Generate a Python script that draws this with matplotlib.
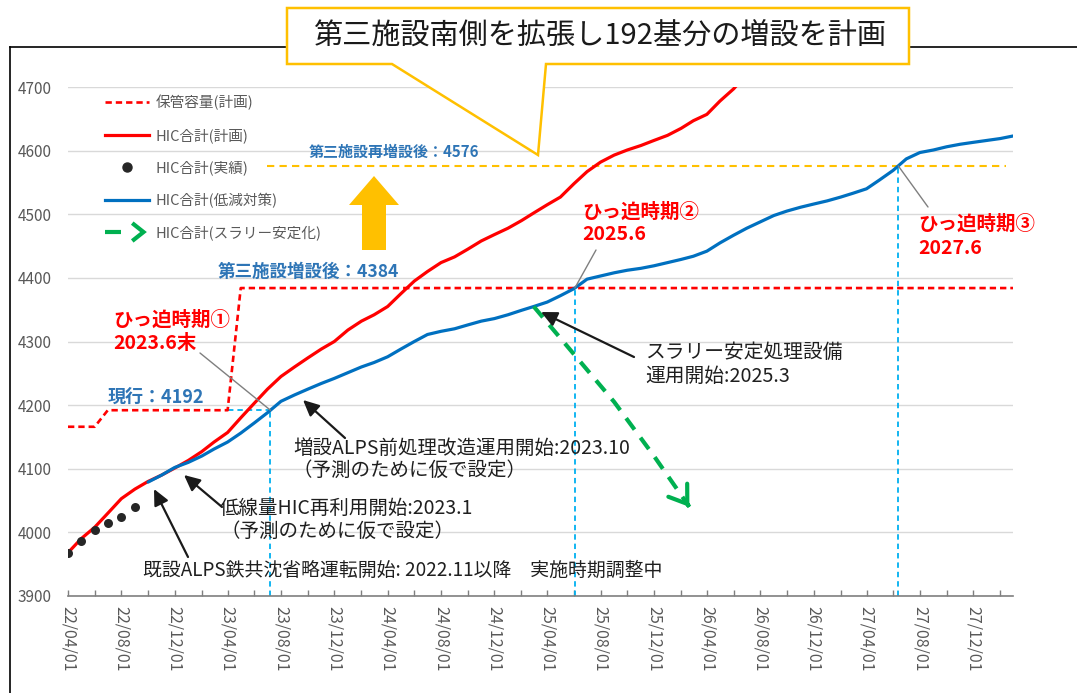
import matplotlib
matplotlib.use("Agg")
import matplotlib.pyplot as plt
import matplotlib.dates as mdates
import numpy as np
import pandas as pd
from matplotlib.lines import Line2D
from matplotlib.patches import Polygon

plt.rcParams["font.family"] = ["Noto Sans CJK JP", "DejaVu Sans"]

# ---------------- data ----------------
# actual HIC count (monthly, from 2022/04)
actual_start = "2022-04-01"
actual_values = [3968, 3987, 4003, 4015, 4024, 4040]

# planned HIC count (monthly, from 2022/04)
plan_start = "2022-04-01"
plan_values = [3968, 3990, 4008, 4030, 4053, 4068, 4080, 4090, 4101, 4113,
               4127, 4142, 4157, 4180, 4203, 4225, 4245, 4260, 4274, 4288,
               4300, 4318, 4332, 4342, 4355, 4375, 4395, 4410, 4424, 4433,
               4445, 4458, 4468, 4478, 4490, 4502, 4515, 4527, 4548, 4567,
               4582, 4593, 4601, 4608, 4616, 4624, 4635, 4647, 4657, 4678,
               4697, 4720]

# HIC count with reduction measures (monthly, from 2022/10)
reduced_start = "2022-10-01"
reduced_values = [4079, 4090, 4102, 4110, 4120, 4131, 4142, 4156, 4172, 4188,
                  4206, 4216, 4225, 4234, 4242, 4251, 4260, 4267, 4276, 4288,
                  4300, 4311, 4316, 4320, 4326, 4332, 4336, 4342, 4349, 4355,
                  4362, 4372, 4383, 4398, 4403, 4408, 4412, 4415, 4419, 4424,
                  4429, 4434, 4442, 4455, 4467, 4478, 4488, 4498, 4505, 4511,
                  4516, 4521, 4527, 4533, 4540, 4554, 4569, 4587, 4597, 4601,
                  4606, 4610, 4613, 4616, 4619, 4623]

# storage capacity (plan), step points
capacity_dates = ["2022-04-01", "2022-06-01", "2022-07-01", "2023-04-01",
                  "2023-05-01", "2028-03-01"]
capacity_values = [4166, 4166, 4192, 4192, 4384, 4384]

# slurry stabilisation scenario
slurry_dates = ["2025-03-01", "2025-06-01", "2025-09-01", "2025-12-01", "2026-02-20"]
slurry_values = [4355, 4280, 4205, 4120, 4040]

# capacity levels
current_capacity = 4192
third_capacity = 4384
third_extra_capacity = 4576
extra_line_span = ["2023-07-01", "2028-02-15"]

legend_labels = ["保管容量(計画)", "HIC合計(計画)", "HIC合計(実績)",
                 "HIC合計(低減対策)", "HIC合計(スラリー安定化)"]

# ---------------- figure ----------------
W, H = 1077, 693
fig = plt.figure(figsize=(W / 100, H / 100), dpi=100)
fig.patch.set_facecolor("white")
ax = fig.add_axes([68 / W, 1 - 596 / H, (1013 - 68) / W, (596 - 87) / H])


def fp(x, y):
    """figure fraction from pixel position measured from the top-left corner"""
    return (x / W, 1 - y / H)


RED = "#FF0000"
BLUE = "#0070C0"
LBLUE = "#00B0F0"
GREEN = "#00B050"
YELLOW = "#FFC000"
GRAY = "#595959"
TXT = "#1f1f1f"
LABEL_BLUE = "#2E75B6"

actual_dates = pd.date_range(actual_start, periods=len(actual_values), freq="MS")
plan_dates = pd.date_range(plan_start, periods=len(plan_values), freq="MS")
reduced_dates = pd.date_range(reduced_start, periods=len(reduced_values), freq="MS")
cap_dates = pd.to_datetime(capacity_dates)
sl_dates = pd.to_datetime(slurry_dates)

# grid
ax.set_ylim(3900, 4700)
ax.set_xlim(pd.Timestamp("2022-04-01"), pd.Timestamp("2028-03-01"))
ax.set_yticks(np.arange(3900, 4701, 100))
ax.grid(axis="y", color="#D9D9D9", lw=1.0, zorder=0)
ax.set_axisbelow(True)

# capacity (dashed)
ax.plot(cap_dates, capacity_values, color=RED, lw=1.9, ls=(0, (2.4, 1.5)), zorder=3)

# plan line
ax.plot(plan_dates, plan_values, color=RED, lw=2.3, zorder=4, solid_capstyle="round")

# reduced line
ax.plot(reduced_dates, reduced_values, color=BLUE, lw=2.3, zorder=5, solid_capstyle="round")

# actual points
ax.scatter(actual_dates, actual_values, s=42, color="#262626", zorder=6, linewidths=0)

# slurry scenario (dashed with open arrow head)
ax.plot(sl_dates, slurry_values, color=GREEN, lw=3.0, ls=(0, (3.4, 2.4)), zorder=5)
sx = mdates.date2num(sl_dates)
tip = (sx[-1], slurry_values[-1])
pre = (sx[-1] - 0.04 * (sx[-1] - sx[-2]),
       slurry_values[-1] - 0.04 * (slurry_values[-1] - slurry_values[-2]))
ax.annotate("", xy=tip, xytext=pre,
            arrowprops=dict(arrowstyle="->,head_length=0.8,head_width=0.55",
                            color=GREEN, lw=3.0, mutation_scale=15,
                            shrinkA=0, shrinkB=0), zorder=5)

# crossings of the reduced line with each capacity level
rx = mdates.date2num(reduced_dates)
rv = np.asarray(reduced_values, dtype=float)


def crossing(level):
    i = int(np.argmax(rv >= level))
    return rx[i - 1] + (level - rv[i - 1]) / (rv[i] - rv[i - 1]) * (rx[i] - rx[i - 1])


levels = [current_capacity, third_capacity, third_extra_capacity]
cross = [crossing(v) for v in levels]
for cx, lv in zip(cross, levels):
    ax.plot([cx, cx], [3900, lv], color=LBLUE, lw=1.3, ls=(0, (3, 2.2)), zorder=2)
ax.plot([mdates.date2num(cap_dates[3]), cross[0]], [current_capacity] * 2,
        color=LBLUE, lw=1.3, ls=(0, (3, 2.2)), zorder=2)

# third facility extra expansion level
ax.plot(pd.to_datetime(extra_line_span), [third_extra_capacity] * 2,
        color=YELLOW, lw=1.5, ls=(0, (3.5, 2.5)), zorder=2)

# axes styling
for s in ["top", "right", "left"]:
    ax.spines[s].set_visible(False)
ax.spines["bottom"].set_color("#7F7F7F")
ax.spines["bottom"].set_linewidth(1.2)
ax.xaxis.set_major_locator(mdates.MonthLocator(bymonth=[4, 8, 12]))
ax.xaxis.set_minor_locator(mdates.MonthLocator(bymonth=[2, 6, 10]))
ax.xaxis.set_major_formatter(mdates.DateFormatter("%y/%m/%d"))
ax.tick_params(axis="x", which="both", direction="in", length=4, width=1,
               color="#7F7F7F", pad=7)
ax.tick_params(axis="x", which="major", labelsize=11.5, labelcolor=GRAY, labelrotation=-90)
ax.tick_params(axis="y", length=0, pad=11.5, labelsize=11, labelcolor=GRAY)
for lab in ax.get_xticklabels():
    lab.set_verticalalignment("top")
    lab.set_horizontalalignment("center")


# legend
class SlurryHandler:
    def legend_artist(self, legend, orig_handle, fontsize, handlebox):
        x0, y0 = handlebox.xdescent, handlebox.ydescent
        w, h = handlebox.width, handlebox.height
        yc = y0 + h / 2
        tr = handlebox.get_transform()
        dash = Line2D([x0, x0 + 0.36 * w], [yc, yc], color=GREEN, lw=3.0,
                      transform=tr, solid_capstyle="butt")
        chev = Line2D([x0 + 0.66 * w, x0 + 0.88 * w, x0 + 0.66 * w],
                      [yc + 5.5, yc, yc - 5.5], color=GREEN, lw=3.0,
                      transform=tr, solid_joinstyle="miter")
        handlebox.add_artist(dash)
        handlebox.add_artist(chev)
        return dash


slurry_handle = Line2D([], [], color=GREEN)
handles = [Line2D([], [], color=RED, lw=1.9, ls=(0, (2.4, 1.5))),
           Line2D([], [], color=RED, lw=2.3),
           Line2D([], [], color="#262626", marker="o", ls="none", markersize=6.5),
           Line2D([], [], color=BLUE, lw=2.3),
           slurry_handle]
leg = ax.legend(handles, legend_labels, loc="upper left",
                bbox_to_anchor=fp(105, 95), bbox_transform=fig.transFigure,
                frameon=False, fontsize=10.5, labelcolor=GRAY, handlelength=3.0,
                handletextpad=0.45, labelspacing=1.2, borderpad=0, borderaxespad=0,
                handler_map={slurry_handle: SlurryHandler()})

# ---------------- annotations ----------------
def ftext(x, y, s, **kw):
    fig.text(*fp(x, y), s, ha="left", va="center", **kw)


for (x, y, s) in [(113, 320, "ひっ迫時期①"), (113, 343, "2023.6末"),
                  (582, 212, "ひっ迫時期②"), (582, 235, "2025.6"),
                  (918, 224, "ひっ迫時期③"), (918, 248, "2027.6")]:
    ftext(x, y, s, color=RED, fontsize=14, fontweight="bold")

for (x, y, s, fs) in [(108, 397, "現行：4192", 13), (218, 272, "第三施設増設後：4384", 12.6),
                      (309, 152, "第三施設再増設後：4576", 10.8)]:
    ftext(x, y, s, color=LABEL_BLUE, fontsize=fs, fontweight="bold")

for (x, y, s, fs) in [(293, 448, "増設ALPS前処理改造運用開始:2023.10", 14),
                      (293, 470, "（予測のために仮で設定）", 14),
                      (220, 508, "低線量HIC再利用開始:2023.1", 14),
                      (220, 531, "（予測のために仮で設定）", 14),
                      (143, 570, "既設ALPS鉄共沈省略運転開始: 2022.11以降　実施時期調整中", 13.6),
                      (645, 352, "スラリー安定処理設備", 14.2),
                      (645, 376, "運用開始:2025.3", 14.2)]:
    ftext(x, y, s, color=TXT, fontsize=fs)

# black pointer arrows
for tail, head in [((345, 438), (303, 400)), ((222, 507), (184, 475)),
                   ((188, 557), (154, 489)), ((634, 357), (541, 312))]:
    ax.annotate("", xy=fp(*head), xycoords="figure fraction",
                xytext=fp(*tail), textcoords="figure fraction",
                arrowprops=dict(arrowstyle="-|>,head_length=0.8,head_width=0.38",
                                color="#1a1a1a", lw=1.6, mutation_scale=12,
                                shrinkA=0, shrinkB=0), zorder=7)

# thin leader lines to the crossing points
for (lx, ly), cx, lv in zip([(200, 353), (596, 250), (928, 207)], cross, levels):
    ax.annotate("", xy=(cx, lv), xycoords="data",
                xytext=fp(lx, ly), textcoords="figure fraction",
                arrowprops=dict(arrowstyle="-", color="#7F7F7F", lw=1.0,
                                shrinkA=0, shrinkB=0), zorder=7)

# big upward arrow
arrow_pts = [(362, 250), (386, 250), (386, 205), (399, 205), (374, 176),
             (349, 205), (362, 205)]
fig.add_artist(Polygon([fp(x, y) for x, y in arrow_pts], closed=True,
                       transform=fig.transFigure, facecolor=YELLOW,
                       edgecolor="none", zorder=8))

# outer frame (top and left edges)
fig.add_artist(Line2D([fp(10, 47)[0], 1.0], [fp(10, 47)[1]] * 2,
                      transform=fig.transFigure, color="black", lw=1.2, zorder=1))
fig.add_artist(Line2D([fp(10, 47)[0]] * 2, [fp(10, 47)[1], 0.0],
                      transform=fig.transFigure, color="black", lw=1.2, zorder=1))

# callout box with title
box_pts = [(287, 8), (909, 8), (909, 64), (546, 64), (538, 155), (392, 64), (287, 64)]
fig.add_artist(Polygon([fp(x, y) for x, y in box_pts], closed=True,
                       transform=fig.transFigure, facecolor="white",
                       edgecolor=YELLOW, lw=1.8, joinstyle="miter", zorder=9))
fig.text(*fp(600, 36), "第三施設南側を拡張し192基分の増設を計画", ha="center",
         va="center", fontsize=21, color="#1a1a1a", zorder=10)

fig.savefig("out.png", dpi=100)
